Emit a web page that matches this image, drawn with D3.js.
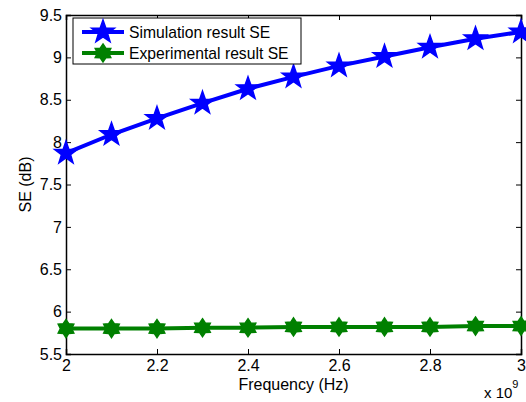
<!DOCTYPE html>
<html>
<head>
<meta charset="utf-8">
<script src="https://cdn.jsdelivr.net/npm/d3@7"></script>
<style>
  body { margin: 0; background: #fff; }
  text { font-family: "Liberation Sans", Arial, sans-serif; }
</style>
</head>
<body>
<div id="chart"></div>
<script>
const freq = [2.0, 2.1, 2.2, 2.3, 2.4, 2.5, 2.6, 2.7, 2.8, 2.9, 3.0];
const simSE = [7.87, 8.09, 8.28, 8.46, 8.63, 8.77, 8.90, 9.01, 9.12, 9.22, 9.30];
const expSE = [5.80, 5.80, 5.80, 5.81, 5.81, 5.82, 5.82, 5.82, 5.82, 5.83, 5.83];
const xTicks = [2, 2.2, 2.4, 2.6, 2.8, 3];
const yTicks = [5.5, 6, 6.5, 7, 7.5, 8, 8.5, 9, 9.5];
const seriesNames = ["Simulation result SE", "Experimental result SE"];

const width = 526, height = 402;
const margin = { top: 15, right: 5, bottom: 48, left: 66 };
const iw = width - margin.left - margin.right;
const ih = height - margin.top - margin.bottom;

const svg = d3.select("#chart").append("svg")
  .attr("width", width)
  .attr("height", height);

const g = svg.append("g")
  .attr("transform", `translate(${margin.left},${margin.top})`);

const x = d3.scaleLinear().domain([2, 3]).range([0, iw]);
const y = d3.scaleLinear().domain([5.5, 9.5]).range([ih, 0]);

// axes, ticks pointing inward like matlab
const tickLen = -5;
g.append("g")
  .attr("transform", `translate(0,${ih})`)
  .call(d3.axisBottom(x).tickValues(xTicks).tickSize(tickLen).tickPadding(6).tickFormat(d3.format("")));
g.append("g")
  .call(d3.axisTop(x).tickValues(xTicks).tickSize(tickLen).tickFormat(""));
g.append("g")
  .call(d3.axisLeft(y).tickValues(yTicks).tickSize(tickLen).tickPadding(4).tickFormat(d3.format("")));
g.append("g")
  .attr("transform", `translate(${iw},0)`)
  .call(d3.axisRight(y).tickValues(yTicks).tickSize(tickLen).tickFormat(""));

g.selectAll(".domain").attr("stroke", "#000").attr("stroke-width", 1.5);
g.selectAll(".tick line").attr("stroke", "#000");
g.selectAll(".tick text").attr("font-size", 16).attr("fill", "#000")
  .attr("font-family", "Liberation Sans, Arial, sans-serif");

// star shapes
function starPath(r, points, inner) {
  const pts = [];
  for (let i = 0; i < points * 2; i++) {
    const a = -Math.PI / 2 + i * Math.PI / points;
    const rr = i % 2 === 0 ? r : r * inner;
    pts.push([rr * Math.cos(a), rr * Math.sin(a)]);
  }
  return "M" + pts.map(p => p.join(",")).join("L") + "Z";
}
const pentagram = starPath(12, 5, 0.4);
const hexagram = starPath(9, 6, 0.62);

const line = d3.line().x((d, i) => x(freq[i])).y(d => y(d));

const series = [
  { name: seriesNames[0], values: simSE, color: "#0000ff", marker: pentagram },
  { name: seriesNames[1], values: expSE, color: "#008000", marker: hexagram }
];

const plot = g.append("g");
series.forEach(s => {
  plot.append("path")
    .datum(s.values)
    .attr("fill", "none")
    .attr("stroke", s.color)
    .attr("stroke-width", 4)
    .attr("d", line);
  plot.selectAll(null)
    .data(s.values)
    .enter()
    .append("path")
    .attr("d", s.marker)
    .attr("transform", (d, i) => `translate(${x(freq[i])},${y(d)})`)
    .attr("fill", s.color)
    .attr("stroke", s.color)
    .attr("stroke-width", 1.5);
});

// legend
const lg = g.append("g").attr("transform", "translate(7,3)");
lg.append("rect")
  .attr("width", 228).attr("height", 46)
  .attr("fill", "#fff").attr("stroke", "#000").attr("stroke-width", 1);
series.forEach((s, i) => {
  const ly = 14 + i * 21;
  lg.append("line")
    .attr("x1", 9).attr("x2", 51).attr("y1", ly).attr("y2", ly)
    .attr("stroke", s.color).attr("stroke-width", 4);
  lg.append("path")
    .attr("d", s.marker)
    .attr("transform", `translate(30,${ly})`)
    .attr("fill", s.color).attr("stroke", s.color).attr("stroke-width", 1.5);
  lg.append("text")
    .attr("x", 56).attr("y", ly + 5.5)
    .attr("font-size", 15.7)
    .text(s.name);
});

// axis labels
svg.append("text")
  .attr("x", margin.left + iw / 2).attr("y", 390)
  .attr("text-anchor", "middle").attr("font-size", 16)
  .text("Frequency (Hz)");

svg.append("text")
  .attr("transform", `translate(31,${margin.top + ih / 2}) rotate(-90)`)
  .attr("text-anchor", "middle").attr("font-size", 16)
  .text("SE (dB)");

const mult = svg.append("text")
  .attr("x", 484).attr("y", 398).attr("font-size", 15);
mult.append("tspan").text("x 10");
mult.append("tspan").attr("dy", -10).attr("font-size", 11).text("9");
</script>
</body>
</html>
